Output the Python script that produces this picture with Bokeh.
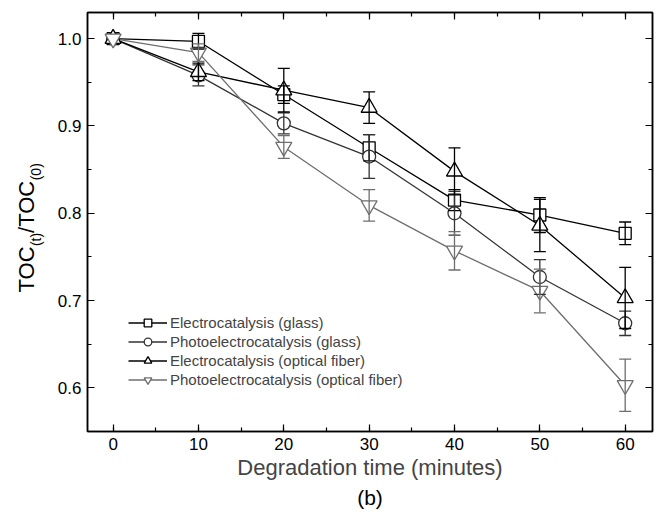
import math
from bokeh.plotting import figure
from bokeh.layouts import row
from bokeh.models import (ColumnDataSource, Whisker, TeeHead, Legend, LegendItem,
                          LinearAxis, SingleIntervalTicker, PrintfTickFormatter,
                          CustomJSTickFormatter, Title, Range1d, Plot, Text)
from bokeh.core.properties import value
from bokeh.embed import file_html
from bokeh.resources import INLINE

# ---- data ----
time = [0, 10, 20, 30, 40, 50, 60]
ec_glass = [1.0, 0.997, 0.936, 0.875, 0.815, 0.798, 0.777]
ec_glass_err = [0, 0.009, 0.010, 0.015, 0.012, 0.020, 0.013]
pec_glass = [1.0, 0.958, 0.903, 0.865, 0.800, 0.727, 0.674]
pec_glass_err = [0, 0.012, 0.012, 0.025, 0.025, 0.020, 0.014]
ec_fiber = [1.0, 0.962, 0.941, 0.921, 0.848, 0.786, 0.703]
ec_fiber_err = [0, 0.010, 0.025, 0.018, 0.027, 0.030, 0.035]
pec_fiber = [1.0, 0.984, 0.876, 0.809, 0.757, 0.711, 0.603]
pec_fiber_err = [0, 0.010, 0.013, 0.018, 0.022, 0.025, 0.030]

labels = ["Electrocatalysis (glass)", "Photoelectrocatalysis (glass)",
          "Electrocatalysis (optical fiber)", "Photoelectrocatalysis (optical fiber)"]
x_title = "Degradation time (minutes)"
y_title_main = ["TOC", "/TOC"]
y_title_sub = ["(t)", "(0)"]
panel_label = "(b)"
x_ticks_interval = 10
y_ticks_interval = 0.1

FONT = "Liberation Sans"
X0, X1 = -3.0, 63.2
Y0, Y1 = 0.55, 1.03
LBL_W = 50
FRAME_TOP, FRAME_BOTTOM = 12, 431

yr = Range1d(Y0, Y1)
p = figure(width=657 - LBL_W, height=512, output_backend="svg", toolbar_location=None,
           x_range=Range1d(X0, X1), y_range=yr,
           min_border_left=87 - LBL_W, min_border_right=5, min_border_top=FRAME_TOP,
           min_border_bottom=512 - FRAME_BOTTOM)
p.background_fill_color = "white"
p.border_fill_color = "white"
p.outline_line_color = "black"
p.outline_line_width = 1.5
p.xgrid.visible = False
p.ygrid.visible = False

def style_axis(ax, ticker, show_labels=True):
    ax.ticker = ticker
    ax.axis_line_color = "black"
    ax.axis_line_width = 1.5
    ax.major_tick_in = 7
    ax.major_tick_out = 0
    ax.minor_tick_in = 4
    ax.minor_tick_out = 0
    ax.major_tick_line_color = "black"
    ax.minor_tick_line_color = "black"
    ax.major_tick_line_width = 1.2
    ax.minor_tick_line_width = 1.2
    ax.major_label_text_font = FONT
    ax.major_label_text_color = "black"
    if show_labels:
        ax.major_label_text_font_size = "17px"
        ax.major_label_standoff = 6
    else:
        ax.formatter = CustomJSTickFormatter(code="return ''")
        ax.major_label_text_font_size = "1px"
        ax.major_label_standoff = 0

xt = lambda: SingleIntervalTicker(interval=x_ticks_interval, num_minor_ticks=2)
yt = lambda: SingleIntervalTicker(interval=y_ticks_interval, num_minor_ticks=2)

style_axis(p.xaxis[0], xt())
style_axis(p.yaxis[0], yt())
p.yaxis[0].formatter = PrintfTickFormatter(format="%.1f")
p.xaxis[0].axis_label = x_title
p.xaxis[0].axis_label_text_font = FONT
p.xaxis[0].axis_label_text_font_size = "22px"
p.xaxis[0].axis_label_text_font_style = "normal"
p.xaxis[0].axis_label_standoff = 2

top_ax = LinearAxis()
style_axis(top_ax, xt(), show_labels=False)
p.add_layout(top_ax, "above")
right_ax = LinearAxis()
style_axis(right_ax, yt(), show_labels=False)
p.add_layout(right_ax, "right")

series = [
    (ec_glass, ec_glass_err, "square", 12, "#000000"),
    (pec_glass, pec_glass_err, "circle", 13, "#333333"),
    (ec_fiber, ec_fiber_err, "triangle", 16, "#000000"),
    (pec_fiber, pec_fiber_err, "inverted_triangle", 16, "#6e6e6e"),
]

line_rs = []
for vals, err, mk, sz, col in series:
    src = ColumnDataSource(dict(x=time, y=vals))
    line_rs.append(p.line("x", "y", source=src, line_color=col, line_width=1.3))

items = []
for (vals, err, mk, sz, col), lr, lab in zip(series, line_rs, labels):
    src = ColumnDataSource(dict(x=time, y=vals))
    mr = p.scatter("x", "y", source=src, marker=mk, size=sz, line_color=col,
                   line_width=1.3, fill_color="white")
    items.append(LegendItem(label=lab, renderers=[lr, mr]))

for vals, err, mk, sz, col in series:
    xs = [t for t, e in zip(time, err) if e > 0]
    up = [v + e for v, e in zip(vals, err) if e > 0]
    lo = [v - e for v, e in zip(vals, err) if e > 0]
    wsrc = ColumnDataSource(dict(x=xs, upper=up, lower=lo))
    w = Whisker(source=wsrc, base="x", upper="upper", lower="lower", dimension="height",
                line_color=col, line_width=1.3,
                upper_head=TeeHead(size=12, line_color=col, line_width=1.3),
                lower_head=TeeHead(size=12, line_color=col, line_width=1.3))
    w.level = "annotation"
    p.add_layout(w)

legend = Legend(items=items, location=(41, 42), border_line_color=None,
                background_fill_alpha=0, padding=0, margin=0, spacing=0,
                glyph_width=39, glyph_height=19, label_height=18, label_standoff=3,
                label_text_font=FONT, label_text_font_size="15px")
p.add_layout(legend, "center")

p.add_layout(Title(text=panel_label, align="center", text_font=FONT, text_font_size="21px",
                   text_font_style="normal", text_color="black", standoff=2, offset=0),
             "below")

# ---- narrow side plot (no axes) holding the rotated y-axis title with subscripts ----
q = Plot(width=LBL_W, height=512, output_backend="svg", toolbar_location=None,
         x_range=Range1d(0, LBL_W), y_range=yr,
         min_border_left=0, min_border_right=0,
         min_border_top=FRAME_TOP, min_border_bottom=512 - FRAME_BOTTOM,
         outline_line_color=None, background_fill_color="white",
         border_fill_color="white")

px2y = (Y1 - Y0) / (FRAME_BOTTOM - FRAME_TOP)
def cy(canvas_y):
    return Y0 + (FRAME_BOTTOM - canvas_y) * px2y

main_base_x = 26
sub_base_x = 35
start_px = 292
len_main = [46.4, 52.6]
len_sub = [13.2, 17.1]
ys_main = [cy(start_px), cy(start_px - len_main[0] - len_sub[0])]
ys_sub = [cy(start_px - len_main[0]), cy(start_px - len_main[0] - len_sub[0] - len_main[1])]

src_main = ColumnDataSource(dict(x=[main_base_x] * 2, y=ys_main, text=y_title_main))
src_sub = ColumnDataSource(dict(x=[sub_base_x] * 2, y=ys_sub, text=y_title_sub))
q.add_glyph(src_main, Text(x="x", y="y", text="text", angle=math.pi / 2, text_align="left",
                           text_baseline="alphabetic", text_font=value(FONT),
                           text_font_size="22px", text_color="black"))
q.add_glyph(src_sub, Text(x="x", y="y", text="text", angle=math.pi / 2, text_align="left",
                          text_baseline="alphabetic", text_font=value(FONT),
                          text_font_size="14px", text_color="black"))

layout = row(q, p, spacing=0)
open("out.html", "w").write(file_html(layout, INLINE))
